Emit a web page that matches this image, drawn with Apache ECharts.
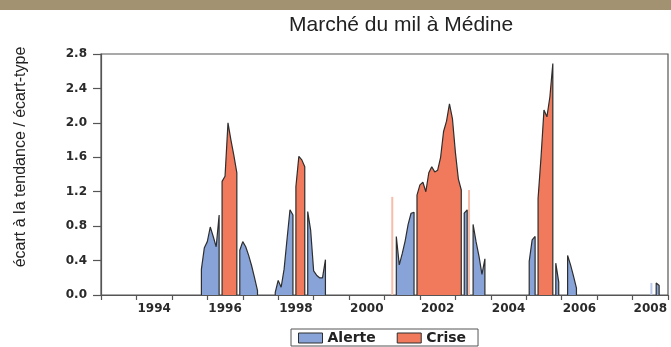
<!DOCTYPE html>
<html>
<head>
<meta charset="utf-8">
<script src="https://cdn.jsdelivr.net/npm/echarts@6/dist/echarts.min.js"></script>
<style>
  html, body { margin: 0; padding: 0; background: #ffffff; }
  #chart { width: 671px; height: 347px; }
</style>
</head>
<body>
<div id="chart"></div>
<script>
// Monthly deviation from trend (in standard deviations), millet market, Médine.
// Each episode: first month + consecutive monthly values.
const alerteStart = ['1995-11', '1996-12', '1997-12', '1998-11', '2001-05', '2003-04', '2003-07', '2005-02', '2005-11', '2006-03', '2008-09'];
const alerteValues = [
  [0.30, 0.55, 0.62, 0.79, 0.68, 0.56, 0.93],
  [0.52, 0.62, 0.56, 0.46, 0.34, 0.20, 0.05],
  [0.03, 0.17, 0.09, 0.30, 0.65, 0.99, 0.93],
  [0.97, 0.75, 0.28, 0.23, 0.20, 0.20, 0.41],
  [0.68, 0.35, 0.48, 0.63, 0.82, 0.95, 0.96],
  [0.95, 0.99],
  [0.82, 0.62, 0.45, 0.24, 0.42],
  [0.39, 0.64, 0.68],
  [0.37, 0.15],
  [0.46, 0.35, 0.22, 0.08],
  [0.14, 0.11]
];

const criseStart = ['1996-06', '1998-07', '2001-12', '2005-05'];
const criseValues = [
  [1.32, 1.38, 2.00, 1.80, 1.62, 1.42],
  [1.26, 1.61, 1.57, 1.49],
  [1.16, 1.28, 1.31, 1.20, 1.42, 1.49, 1.43, 1.45, 1.60, 1.90, 2.02, 2.22, 2.05, 1.66, 1.35, 1.22],
  [1.12, 1.60, 2.15, 2.07, 2.30, 2.69]
];

// One-month episodes (no width of their own)
const criseSingleMonths = ['2001-04', '2003-06'];
const criseSingleValues = [1.14, 1.22];
const alerteSingleMonths = ['2008-07'];
const alerteSingleValues = [0.14];

// Axes
const years = ['1993', '1994', '1995', '1996', '1997', '1998', '1999', '2000',
               '2001', '2002', '2003', '2004', '2005', '2006', '2007', '2008'];
const labelledYears = ['1994', '1996', '1998', '2000', '2002', '2004', '2006', '2008'];
const yTicks = [0.0, 0.4, 0.8, 1.2, 1.6, 2.0, 2.4, 2.8];

const COLOR_ALERTE = '#87A3D8';
const COLOR_CRISE = '#F07A5B';
const COLOR_OUTLINE = '#2e2e2e';
const COLOR_AXIS = '#555555';

function monthToYear(s) {
  const [y, m] = s.split('-').map(Number);
  return y + (m - 1) / 12;
}

// Closed outline of one episode: drop to zero at both ends
function episodePoints(start, values) {
  const t0 = monthToYear(start);
  const pts = values.map((v, i) => [t0 + i / 12, v]);
  return [[t0, 0]].concat(pts, [[pts[pts.length - 1][0], 0]]);
}

function episodeSeries(name, color, starts, valuesList) {
  return starts.map((s, k) => ({
    name: name,
    type: 'line',
    xAxisIndex: 0,
    yAxisIndex: 0,
    data: episodePoints(s, valuesList[k]),
    symbol: 'none',
    showSymbol: false,
    lineStyle: { color: COLOR_OUTLINE, width: 1.2 },
    itemStyle: { color: color },
    areaStyle: { color: color, opacity: 1 },
    emphasis: { disabled: true },
    z: 3
  }));
}

function singleMonthSeries(name, color, months, values) {
  return {
    name: name,
    type: 'bar',
    xAxisIndex: 0,
    yAxisIndex: 0,
    barWidth: 2,
    data: months.map((m, i) => [monthToYear(m), values[i]]),
    itemStyle: { color: color },
    emphasis: { disabled: true },
    z: 2
  };
}

const series = []
  .concat(episodeSeries('Alerte', COLOR_ALERTE, alerteStart, alerteValues))
  .concat(episodeSeries('Crise', COLOR_CRISE, criseStart, criseValues))
  .concat([
    singleMonthSeries('Crise 1 mois', '#F7BDA9', criseSingleMonths, criseSingleValues),
    singleMonthSeries('Alerte 1 mois', '#BCCBEC', alerteSingleMonths, alerteSingleValues)
  ]);

const tickFont = { fontFamily: 'DejaVu Sans', fontWeight: 'bold', fontSize: 12, color: '#2a2a2a' };

const chart = echarts.init(document.getElementById('chart'), null, { renderer: 'canvas' });
chart.setOption({
  animation: false,
  backgroundColor: '#ffffff',
  title: {
    text: 'Marché du mil à Médine',
    left: 289,
    top: 15,
    padding: 0,
    textStyle: { fontFamily: 'Liberation Sans', fontWeight: 'normal', fontSize: 21, color: '#222222' }
  },
  graphic: [
    {
      type: 'rect',
      left: 0, top: 0,
      shape: { width: 671, height: 10 },
      style: { fill: '#A39272' },
      silent: true
    },
    {
      type: 'text',
      x: 21, y: 157,
      rotation: Math.PI / 2,
      style: {
        text: 'écart à la tendance / écart-type',
        font: '16px "Liberation Sans"',
        fill: '#222222',
        textAlign: 'center',
        textVerticalAlign: 'middle'
      },
      silent: true
    }
  ],
  legend: {
    data: ['Alerte', 'Crise'],
    left: 291,
    top: 329,
    orient: 'horizontal',
    icon: 'rect',
    itemWidth: 24,
    itemHeight: 10,
    itemGap: 21,
    padding: [2, 12, 1, 7],
    borderColor: COLOR_AXIS,
    borderWidth: 1,
    itemStyle: { borderColor: COLOR_OUTLINE, borderWidth: 1 },
    textStyle: { fontFamily: 'DejaVu Sans', fontWeight: 'bold', fontSize: 14, color: '#222222', lineHeight: 14 },
    selectedMode: false
  },
  grid: {
    left: 101,
    top: 54,
    width: 567,
    height: 241,
    show: true,
    borderColor: COLOR_AXIS,
    borderWidth: 1.2,
    backgroundColor: 'transparent'
  },
  xAxis: [
    {
      type: 'value',
      min: 1993,
      max: 2009,
      show: false,
      position: 'bottom'
    },
    {
      type: 'category',
      data: years,
      position: 'bottom',
      boundaryGap: true,
      axisLine: { onZero: false, lineStyle: { color: COLOR_AXIS, width: 1.2 } },
      axisTick: { show: true, interval: 0, alignWithLabel: false, length: 5, lineStyle: { color: COLOR_AXIS, width: 1.2 } },
      axisLabel: {
        interval: (idx, val) => labelledYears.indexOf(val) !== -1,
        margin: 8,
        ...tickFont
      },
      splitLine: { show: false }
    }
  ],
  yAxis: {
    type: 'value',
    min: yTicks[0],
    max: yTicks[yTicks.length - 1],
    interval: yTicks[1] - yTicks[0],
    axisLine: { show: true, lineStyle: { color: COLOR_AXIS, width: 1.2 } },
    axisTick: { show: true, length: 8, lineStyle: { color: COLOR_AXIS, width: 1.2 } },
    axisLabel: { margin: 14, formatter: v => v.toFixed(1), ...tickFont },
    splitLine: { show: false }
  },
  series: series
});
</script>
</body>
</html>
